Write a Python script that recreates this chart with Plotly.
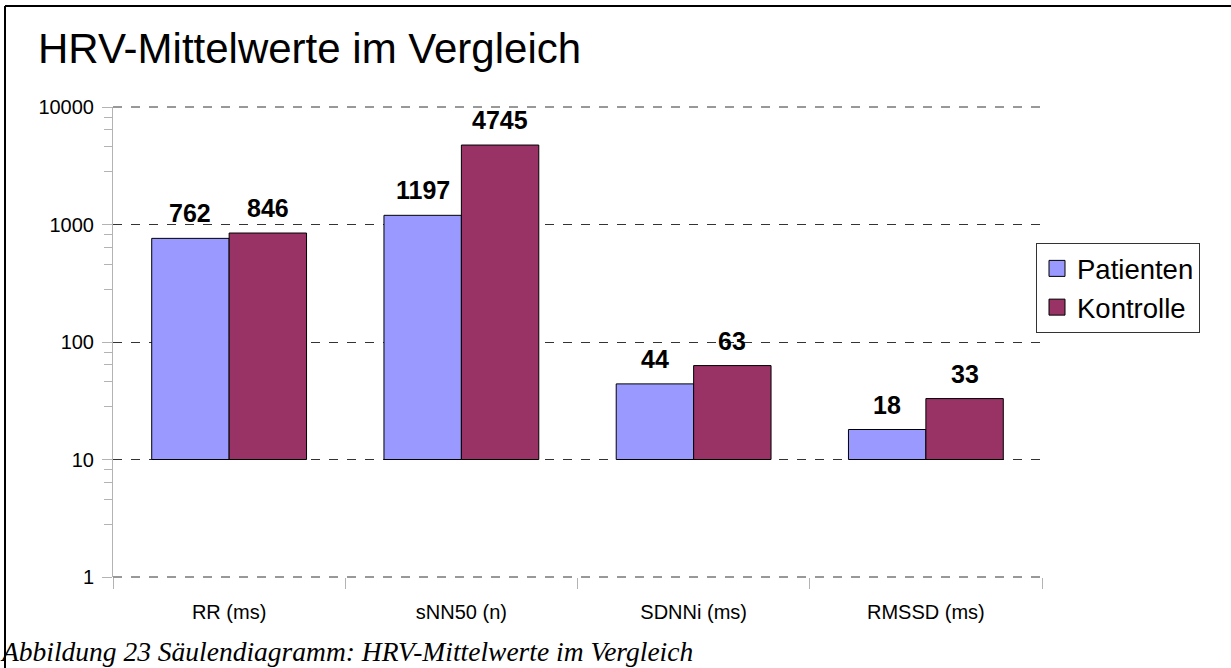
import numpy as np
import plotly.graph_objects as go

categories = ["RR (ms)", "sNN50 (n)", "SDNNi (ms)", "RMSSD (ms)"]
patienten = [762, 1197, 44, 18]
kontrolle = [846, 4745, 63, 33]
series_names = ["Patienten", "Kontrolle"]
colors = ["#9999ff", "#993366"]
y_tick_vals = [1, 10, 100, 1000, 10000]
y_tick_text = ["1", "10", "100", "1000", "10000"]
bar_base = 10

title_text = "HRV-Mittelwerte im Vergleich"
caption_text = "Abbildung 23 Säulendiagramm: HRV-Mittelwerte im Vergleich"

W, H = 1231, 668
L, R, T, B = 113, 189, 107, 91
PW, PH = W - L - R, H - T - B


def px_x(p):
    return (p - L) / PW


def px_y(p):
    return (H - B - p) / PH


FONT = "Liberation Sans"
GRID = "#333333"

fig = go.Figure()
for name, vals, col in zip(series_names, [patienten, kontrolle], colors):
    fig.add_trace(go.Bar(
        name=name,
        x=categories,
        y=[v - bar_base for v in vals],
        base=[bar_base] * len(vals),
        marker=dict(color=col, line=dict(color="#000000", width=1)),
        hoverinfo="skip",
        showlegend=False,
    ))
    # legend entry with a larger square symbol
    fig.add_trace(go.Scatter(
        name=name, x=[None], y=[None], mode="markers",
        marker=dict(symbol="square", size=20, color=col,
                    line=dict(color="#000000", width=1)),
        showlegend=True, hoverinfo="skip",
    ))

annotations = []
bar_w = PW / len(categories) / 3
for sign, vals in zip([-1, 1], [patienten, kontrolle]):
    for c, v in zip(categories, vals):
        annotations.append(dict(
            x=c, y=np.log10(v), xref="x", yref="y",
            text="<b>" + str(v) + "</b>", showarrow=False,
            xshift=sign * bar_w / 2, yshift=9,
            yanchor="bottom", xanchor="center",
            font=dict(family=FONT, size=25, color="#000000"),
        ))

# title
annotations.append(dict(
    x=px_x(36), y=px_y(48), xref="paper", yref="paper",
    text=title_text, showarrow=False, xanchor="left", yanchor="middle",
    font=dict(family=FONT, size=42, color="#000000"),
))
# caption
annotations.append(dict(
    x=px_x(-2), y=px_y(651), xref="paper", yref="paper",
    text="<i>" + caption_text + "</i>", showarrow=False,
    xanchor="left", yanchor="middle",
    font=dict(family="Liberation Serif", size=27.5, color="#000000"),
))

shapes = [
    dict(type="line", xref="paper", yref="paper",
         x0=px_x(5), x1=px_x(1231), y0=px_y(6), y1=px_y(6),
         line=dict(color="#000000", width=2)),
    dict(type="line", xref="paper", yref="paper",
         x0=px_x(5), x1=px_x(5), y0=px_y(6), y1=px_y(668),
         line=dict(color="#000000", width=2)),
    # grid lines at the top and bottom edges of the plot area
    dict(type="line", xref="paper", yref="paper", x0=0, x1=1, y0=1, y1=1,
         line=dict(color=GRID, width=1, dash="dash"), layer="below"),
    dict(type="line", xref="paper", yref="paper", x0=0, x1=1, y0=0, y1=0,
         line=dict(color=GRID, width=1, dash="dash"), layer="below"),
]

minor_vals = [d * f for d in (1, 10, 100, 1000) for f in (2.8, 4.6, 6.4, 8.2)]

fig.update_layout(
    width=W, height=H,
    margin=dict(l=L, r=R, t=T, b=B, pad=0),
    paper_bgcolor="#ffffff", plot_bgcolor="#ffffff",
    barmode="group", bargap=1 / 3, bargroupgap=0,
    font=dict(family=FONT, size=20, color="#000000"),
    showlegend=True,
    legend=dict(
        x=px_x(1036), y=px_y(243), xanchor="left", yanchor="top",
        bordercolor="#333333", borderwidth=1, bgcolor="#ffffff",
        font=dict(family=FONT, size=27.5, color="#000000"),
        tracegroupgap=0, itemsizing="trace",
        entrywidth=162,
    ),
    xaxis=dict(
        type="category", range=[-0.5, 3.5],
        showgrid=False, showline=False, zeroline=False,
        ticks="outside", tickson="boundaries", ticklen=11,
        tickcolor="#b3b3b3", tickwidth=1,
        ticklabelstandoff=21,
        tickfont=dict(family=FONT, size=20, color="#000000"),
    ),
    yaxis=dict(
        type="log", range=[0, 4],
        tickmode="array", tickvals=y_tick_vals, ticktext=y_tick_text,
        showgrid=True, gridcolor=GRID, griddash="dash", gridwidth=1,
        showline=True, linecolor="#b3b3b3", linewidth=1,
        zeroline=False,
        ticks="outside", ticklen=10, tickcolor="#b3b3b3", tickwidth=1,
        ticklabelstandoff=4,
        tickfont=dict(family=FONT, size=20, color="#000000"),
        minor=dict(tickmode="array", tickvals=minor_vals, ticks="outside",
                   ticklen=8, tickcolor="#b3b3b3", showgrid=False),
    ),
    annotations=annotations,
    shapes=shapes,
)

fig.write_html("out.html", config={"displayModeBar": False},
               post_script="document.body.style.margin='0px';")
